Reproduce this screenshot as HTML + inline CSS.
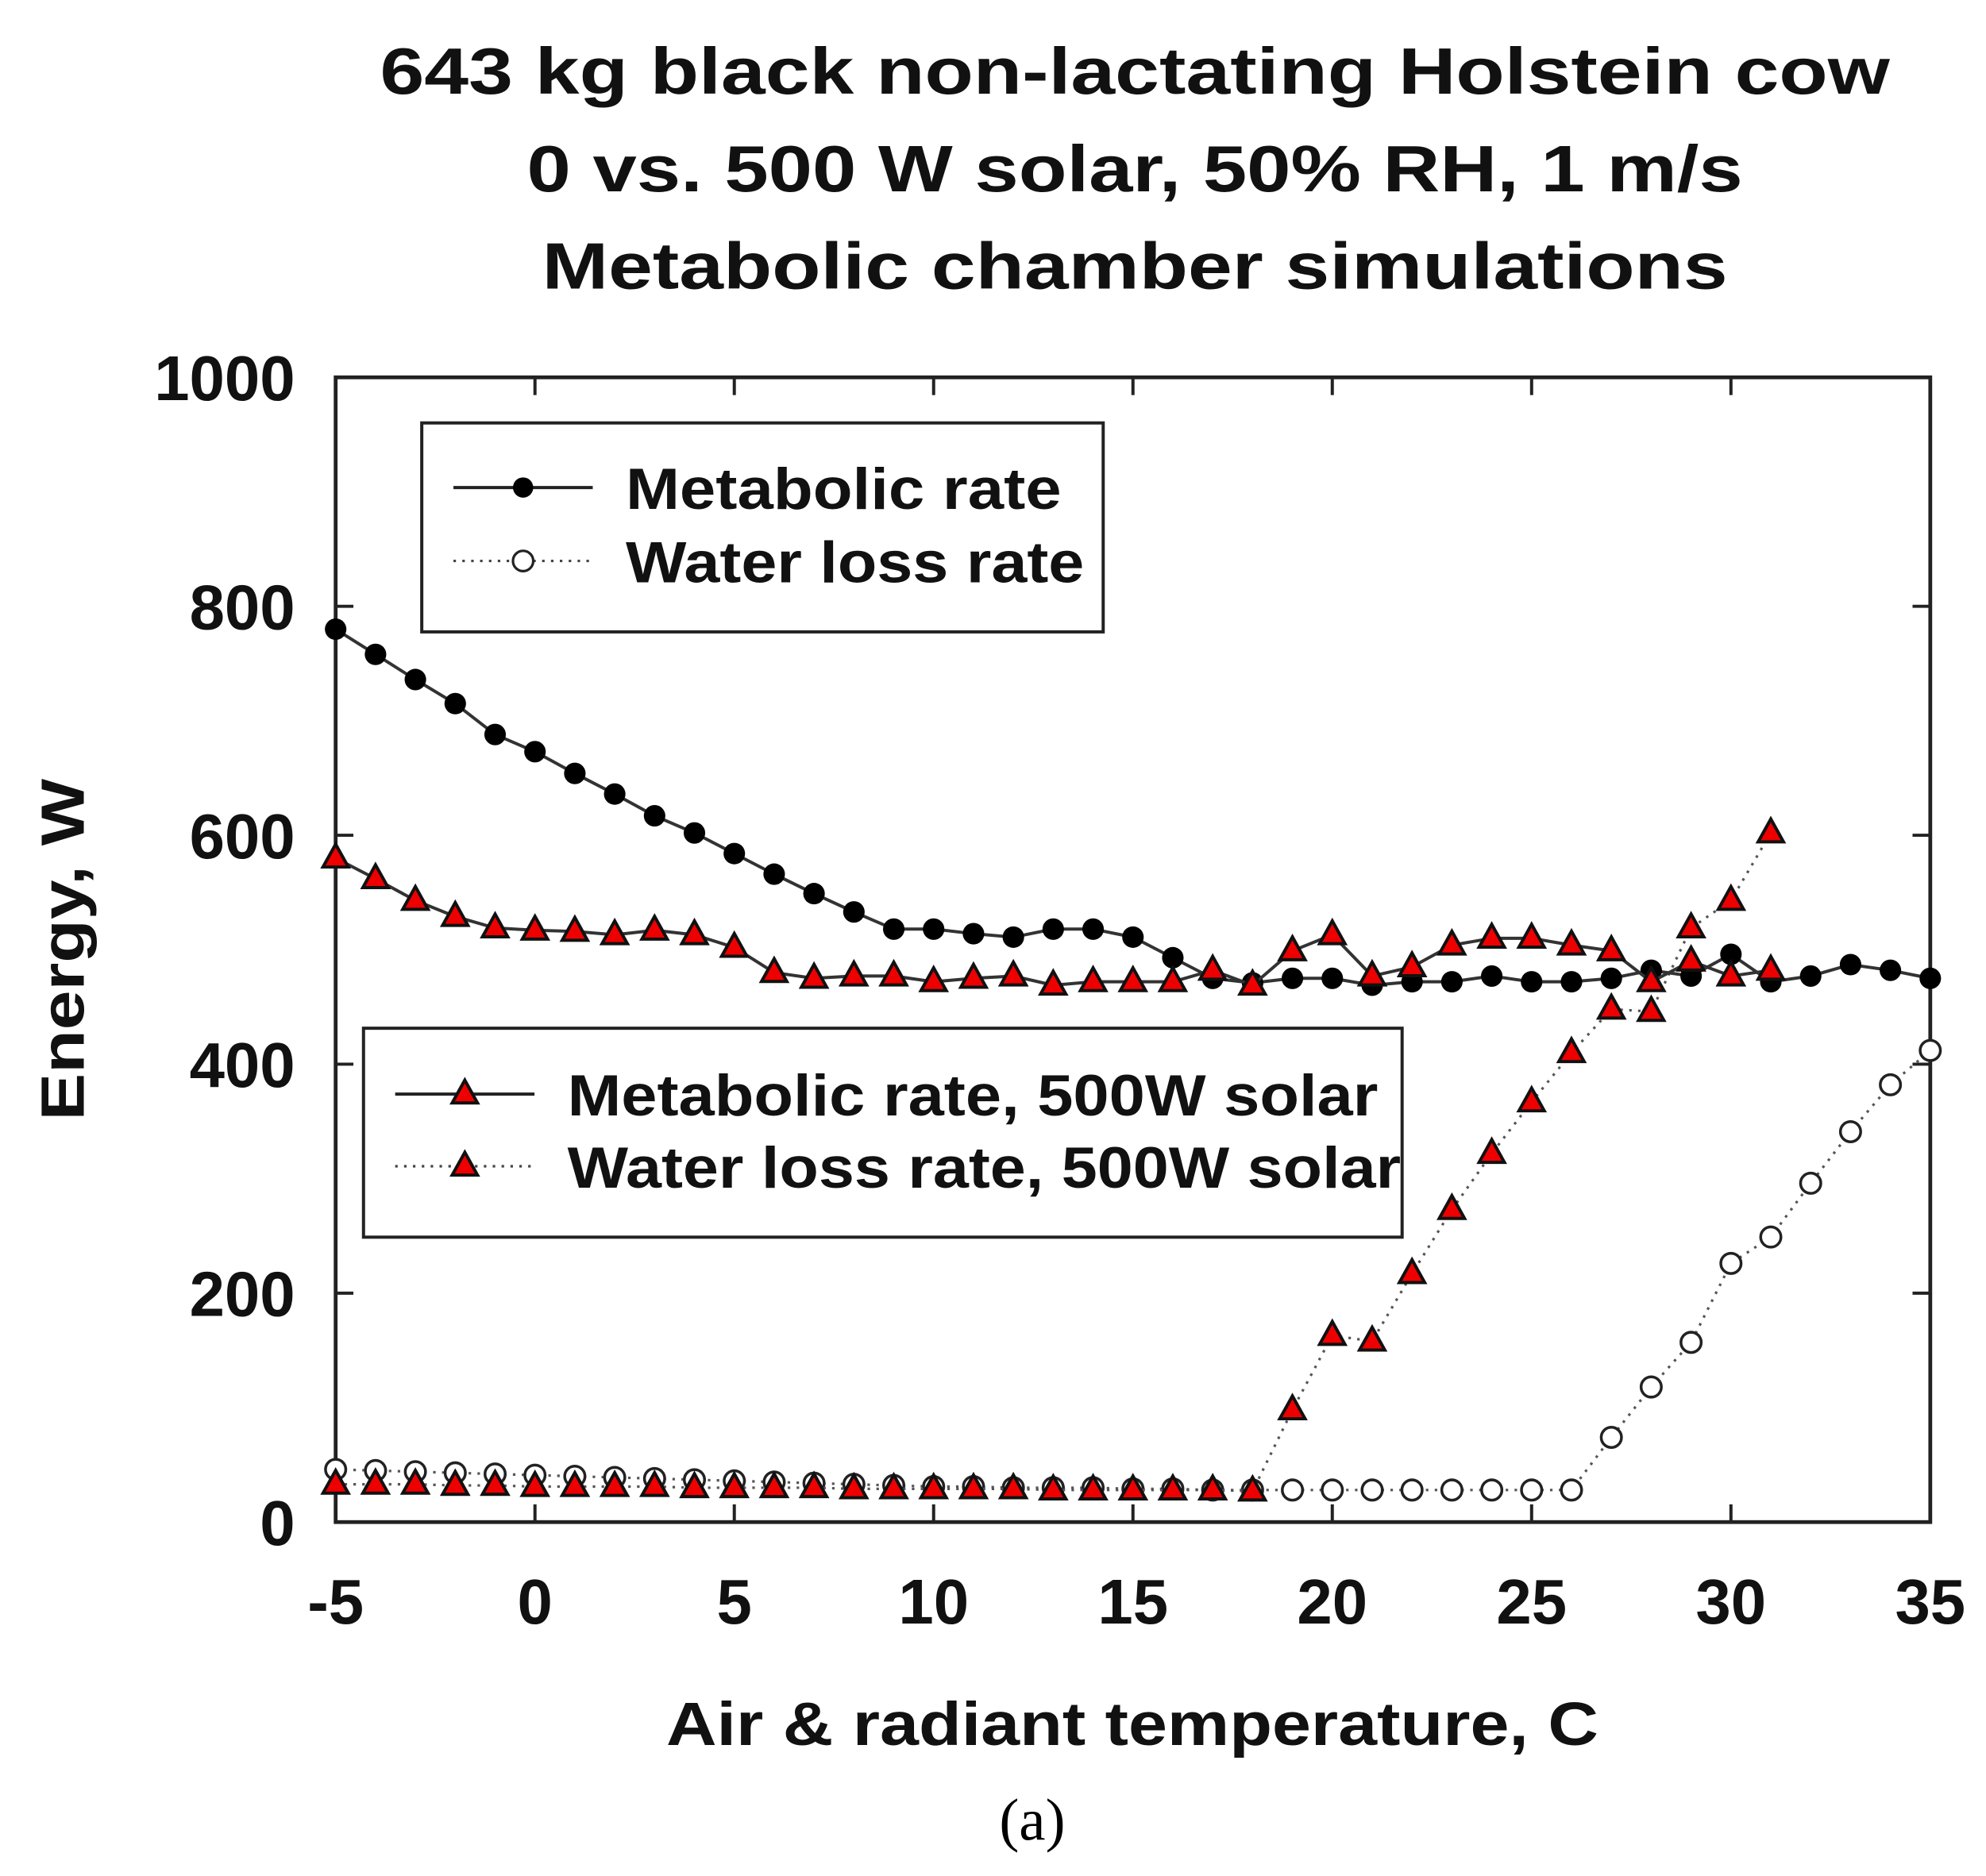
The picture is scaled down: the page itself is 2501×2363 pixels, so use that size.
<!DOCTYPE html>
<html><head><meta charset="utf-8"><style>
html,body{margin:0;padding:0;background:#fff;}
svg{display:block;}
text{font-family:"Liberation Sans",Arial,sans-serif;font-weight:bold;fill:#111;}
</style></head><body>
<svg id="chart" width="2501" height="2363" viewBox="0 0 1568 1481.5" preserveAspectRatio="none" xmlns="http://www.w3.org/2000/svg">
<g>
<text x="896" y="74" font-size="52" text-anchor="middle" textLength="1192" lengthAdjust="spacingAndGlyphs">643 kg black non-lactating Holstein cow</text>
<text x="896" y="151" font-size="52" text-anchor="middle" textLength="960" lengthAdjust="spacingAndGlyphs">0 vs. 500 W solar, 50% RH, 1 m/s</text>
<text x="896" y="228" font-size="52" text-anchor="middle" textLength="936" lengthAdjust="spacingAndGlyphs">Metabolic chamber simulations</text>
</g>
<rect x="265" y="298" width="1259" height="904" fill="none" stroke="#222" stroke-width="3"/>
<g id="ticks"></g>
<g id="series"></g>
<text font-size="48" text-anchor="middle" transform="translate(66,750) rotate(-90)" textLength="270" lengthAdjust="spacingAndGlyphs">Energy, W</text>
<text x="894" y="1378" font-size="48" text-anchor="middle" textLength="736" lengthAdjust="spacingAndGlyphs">Air &amp; radiant temperature, C</text>
<text x="815" y="1453" font-size="47" text-anchor="middle" style="font-family:'Liberation Serif',serif;font-weight:normal;fill:#000">(a)</text>
<g>
<rect x="333" y="334" width="538" height="165" fill="#fff" stroke="#222" stroke-width="2.5"/>
<line x1="358" y1="385" x2="468" y2="385" stroke="#222" stroke-width="2.5"/>
<circle cx="413" cy="385" r="8" fill="#000"/>
<text x="494" y="402" font-size="46" textLength="344" lengthAdjust="spacingAndGlyphs">Metabolic rate</text>
<line x1="358" y1="443" x2="468" y2="443" stroke="#444" stroke-width="2" stroke-dasharray="2,5"/>
<circle cx="413" cy="443" r="8" fill="#fff" stroke="#222" stroke-width="2"/>
<text x="494" y="460" font-size="46" textLength="362" lengthAdjust="spacingAndGlyphs">Water loss rate</text>
</g>
<g>
<rect x="287" y="812" width="820" height="165" fill="#fff" stroke="#222" stroke-width="2.5"/>
<line x1="312" y1="864" x2="422" y2="864" stroke="#222" stroke-width="2.5"/>
<polygon points="367,853 377,871 357,871" fill="#e00" stroke="#111" stroke-width="2.5"/>
<text x="448" y="881" font-size="46" textLength="640" lengthAdjust="spacingAndGlyphs">Metabolic rate, 500W solar</text>
<line x1="312" y1="921" x2="422" y2="921" stroke="#444" stroke-width="2" stroke-dasharray="2,5"/>
<polygon points="367,910 377,928 357,928" fill="#e00" stroke="#111" stroke-width="2.5"/>
<text x="448" y="938" font-size="46" textLength="658" lengthAdjust="spacingAndGlyphs">Water loss rate, 500W solar</text>
</g>
</svg>
<script>
const xTicks=[-5,0,5,10,15,20,25,30,35];
const yTicks=[0,200,400,600,800,1000];
const temps=[-5,-4,-3,-2,-1,0,1,2,3,4,5,6,7,8,9,10,11,12,13,14,15,16,17,18,19,20,21,22,23,24,25,26,27,28,29,30,31,32,33,34,35];
const metabolic=[780,758,736,715,688,673,654,636,617,602,584,566,549,533,518,518,514,511,518,518,511,493,475,471,475,475,469,472,472,477,472,472,475,482,477,496,472,477,487,482,475];
const waterLoss=[46,45,44,43,42,41,40,39,38,37,36,35,34,33,32,31,31,30,30,30,29,29,28,28,28,28,28,28,28,28,28,28,74,118,157,226,249,296,341,382,412];
const tempsSolar=[-5,-4,-3,-2,-1,0,1,2,3,4,5,6,7,8,9,10,11,12,13,14,15,16,17,18,19,20,21,22,23,24,25,26,27,28,29,30,31];
const metabolicSolar=[580,562,543,529,519,517,516,513,517,513,502,480,475,477,477,472,475,477,469,472,472,472,482,469,499,513,477,485,504,510,510,504,499,472,490,477,482];
const waterLossSolar=[33,33,33,32,32,31,31,31,31,30,30,30,30,29,29,29,29,29,28,28,28,28,28,27,98,163,158,217,273,322,367,410,448,446,519,543,602];

const NS="http://www.w3.org/2000/svg";
const X0=265,X1=1524,Y0=1202,Y1=298;
function sx(v){return X0+(v+5)/40*(X1-X0);}
function sy(v){return Y0-v/1000*(Y0-Y1);}
function mk(tag,attrs,parent){const e=document.createElementNS(NS,tag);for(const k in attrs)e.setAttribute(k,attrs[k]);parent.appendChild(e);return e;}
const ticks=document.getElementById('ticks');
xTicks.forEach(t=>{
  const l=mk('line',{x1:sx(t),x2:sx(t),y1:Y0,y2:Y0-14,stroke:'#222','stroke-width':2.5},ticks);
  
  
  const l2=mk('line',{x1:sx(t),x2:sx(t),y1:Y1,y2:Y1+14,stroke:'#222','stroke-width':2.5},ticks);
  
  
  const tx=mk('text',{x:sx(t),y:1282,'font-size':50,'text-anchor':'middle'},ticks);
  tx.textContent=t;
  
  
});
yTicks.forEach(t=>{
  const l=mk('line',{x1:X0,x2:X0+14,y1:sy(t),y2:sy(t),stroke:'#222','stroke-width':2.5},ticks);
  
  
  const l2=mk('line',{x1:X1,x2:X1-14,y1:sy(t),y2:sy(t),stroke:'#222','stroke-width':2.5},ticks);
  
  
  const tx=mk('text',{x:233,y:sy(t)+18,'font-size':50,'text-anchor':'end'},ticks);
  tx.textContent=t;
  
  
});
const series=document.getElementById('series');
function drawSeries(xs,ys,name,dashed,marker){
  const g=mk('g',{},series);
  
  
  const pts=xs.map((x,i)=>sx(x)+','+sy(ys[i])).join(' ');
  const pl=mk('polyline',{points:pts,fill:'none',stroke:dashed?'#555':'#333','stroke-width':dashed?2:2.5,'stroke-dasharray':dashed?'2,5':'none'},g);
  
  
  xs.forEach((x,i)=>{
    const cx=sx(x),cy=sy(ys[i]);let m;
    if(marker==='fc')m=mk('circle',{cx:cx,cy:cy,r:8.5,fill:'#000'},g);
    else if(marker==='oc')m=mk('circle',{cx:cx,cy:cy,r:8,fill:'#fff',stroke:'#222','stroke-width':2.2},g);
    else m=mk('polygon',{points:`${cx},${cy-11} ${cx+10},${cy+7} ${cx-10},${cy+7}`,fill:'#e00',stroke:'#111','stroke-width':2.5},g);
    
    
  });
}
drawSeries(temps,waterLoss,'water-loss-series',true,'oc');
drawSeries(tempsSolar,waterLossSolar,'water-loss-solar-series',true,'tri');
drawSeries(temps,metabolic,'metabolic-series',false,'fc');
drawSeries(tempsSolar,metabolicSolar,'metabolic-solar-series',false,'tri');
</script>
</body></html>
